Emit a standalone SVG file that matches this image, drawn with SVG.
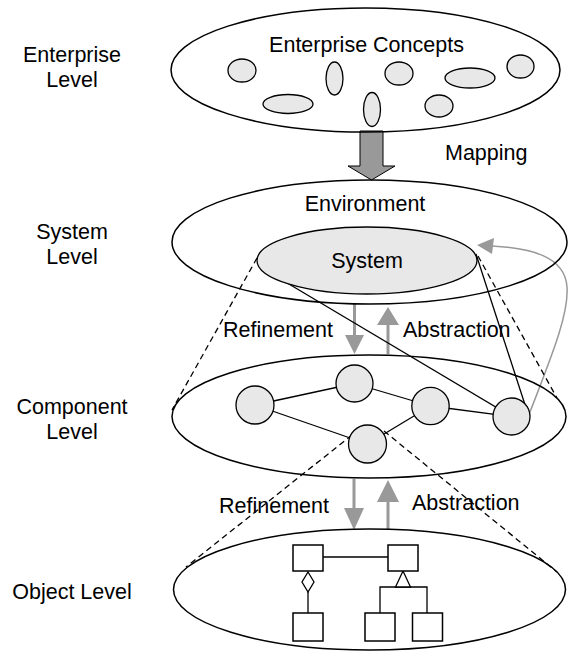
<svg xmlns="http://www.w3.org/2000/svg" width="568" height="651" viewBox="0 0 568 651">
<style>
text{font-family:"Liberation Sans",Arial,sans-serif;font-size:21.5px;fill:#000}
.lbl{text-anchor:middle}
.big{fill:none;stroke:#000;stroke-width:1.5}
.sm{fill:#e8e8e8;stroke:#000;stroke-width:1.3}
.ln{stroke:#000;stroke-width:1.3;fill:none}
.dash{stroke:#000;stroke-width:1.3;fill:none;stroke-dasharray:6,4}
.gs{stroke:#999;stroke-width:3;fill:none}
.gh{fill:#999;stroke:none}
.box{fill:#fff;stroke:#000;stroke-width:1.5}
</style>
<rect width="568" height="651" fill="#fff"/>
<g id="labels">
<text class="lbl" x="72" y="62">Enterprise</text>
<text class="lbl" x="72" y="87">Level</text>
<text class="lbl" x="72" y="239">System</text>
<text class="lbl" x="72" y="264">Level</text>
<text class="lbl" x="72" y="414">Component</text>
<text class="lbl" x="72" y="439">Level</text>
<text class="lbl" x="72" y="599">Object Level</text>
</g>
<g id="connectors">
<polygon points="360,131 383,131 383,166 395,166 371.5,180 348,166 360,166" fill="#999" stroke="#000" stroke-width="1"/>
<line class="gs" x1="354.5" y1="304" x2="354.5" y2="337"/>
<polygon class="gh" points="345,335 364,335 354.5,354"/>
<line class="gs" x1="388" y1="354" x2="388" y2="323"/>
<polygon class="gh" points="377,325 399,325 388,307"/>
<line class="gs" x1="354" y1="479" x2="354" y2="510"/>
<polygon class="gh" points="344,508 364,508 354,530"/>
<line class="gs" x1="388" y1="530" x2="388" y2="500"/>
<polygon class="gh" points="377,502 399,502 388,480"/>
<path d="M530,412 C550,360 569,315 567,287 C565,256 530,248 492,246" stroke="#999" stroke-width="1.5" fill="none"/>
<polygon class="gh" points="477,245 494,238 492,254"/>
<line class="ln" x1="262" y1="268" x2="511" y2="416"/>
<line class="ln" x1="476" y1="254" x2="529" y2="417"/>
<line class="dash" x1="257" y1="258" x2="172" y2="410"/>
<line class="dash" x1="478" y1="256" x2="557" y2="398"/>
<line class="dash" x1="352" y1="435" x2="186" y2="567"/>
<line class="dash" x1="384" y1="431" x2="557" y2="572"/>
<line class="ln" x1="255" y1="405" x2="354.5" y2="383.5"/>
<line class="ln" x1="354.5" y1="383.5" x2="430.5" y2="406"/>
<line class="ln" x1="430.5" y1="406" x2="511.5" y2="416.5"/>
<line class="ln" x1="255" y1="405" x2="367.5" y2="444"/>
<line class="ln" x1="367.5" y1="444" x2="430.5" y2="406"/>
</g>
<g id="enterprise">
<ellipse class="big" cx="365.5" cy="70" rx="194.5" ry="62"/>
<text class="lbl" x="366.5" y="52">Enterprise Concepts</text>
<ellipse class="sm" cx="242" cy="70.5" rx="14" ry="11.5"/>
<ellipse class="sm" cx="334.5" cy="78.5" rx="8.5" ry="16.5"/>
<ellipse class="sm" cx="399" cy="73.5" rx="14" ry="11.5"/>
<ellipse class="sm" cx="470" cy="78" rx="25" ry="10"/>
<ellipse class="sm" cx="520.5" cy="66.5" rx="13.5" ry="11.5"/>
<ellipse class="sm" cx="288" cy="104" rx="25" ry="9.5"/>
<ellipse class="sm" cx="372" cy="109.5" rx="8.5" ry="17"/>
<ellipse class="sm" cx="439" cy="106" rx="14" ry="11"/>
</g>
<text x="445" y="160">Mapping</text>
<g id="environment">
<ellipse class="big" cx="369.5" cy="242" rx="197.5" ry="62"/>
<text class="lbl" x="365" y="211">Environment</text>
</g>
<g id="system">
<ellipse class="sm" cx="367" cy="260.5" rx="110" ry="33.5" stroke-width="1.5"/>
<text class="lbl" x="367" y="268">System</text>
</g>
<text x="223" y="337">Refinement</text>
<text x="403" y="337">Abstraction</text>
<g id="component">
<ellipse class="big" cx="369" cy="416.5" rx="197" ry="61.5"/>
<circle class="sm" cx="255" cy="405" r="19"/>
<circle class="sm" cx="354.5" cy="383.5" r="18.5"/>
<circle class="sm" cx="430.5" cy="406" r="18.7"/>
<circle class="sm" cx="511.5" cy="416.5" r="18.5"/>
<circle class="sm" cx="367.5" cy="444" r="19"/>
</g>
<text x="219" y="513">Refinement</text>
<text x="412" y="510">Abstraction</text>
<g id="object">
<ellipse class="big" cx="369.5" cy="589.5" rx="196" ry="60.5"/>
<line class="ln" x1="323" y1="557" x2="388" y2="557"/>
<line class="ln" x1="308" y1="592" x2="308" y2="613"/>
<polygon points="308,572 314,582 308,592 302,582" fill="#fff" stroke="#000" stroke-width="1.3"/>
<polyline class="ln" points="380,613 380,587 427,587 427,613"/>
<polygon points="403,571 410.5,587 395.5,587" fill="#fff" stroke="#000" stroke-width="1.3"/>
<rect class="box" x="293" y="545" width="30" height="26"/>
<rect class="box" x="388" y="545" width="30" height="26"/>
<rect class="box" x="293" y="613" width="30" height="28"/>
<rect class="box" x="365" y="613" width="30" height="28"/>
<rect class="box" x="412.5" y="613" width="30" height="28"/>
</g>
</svg>
